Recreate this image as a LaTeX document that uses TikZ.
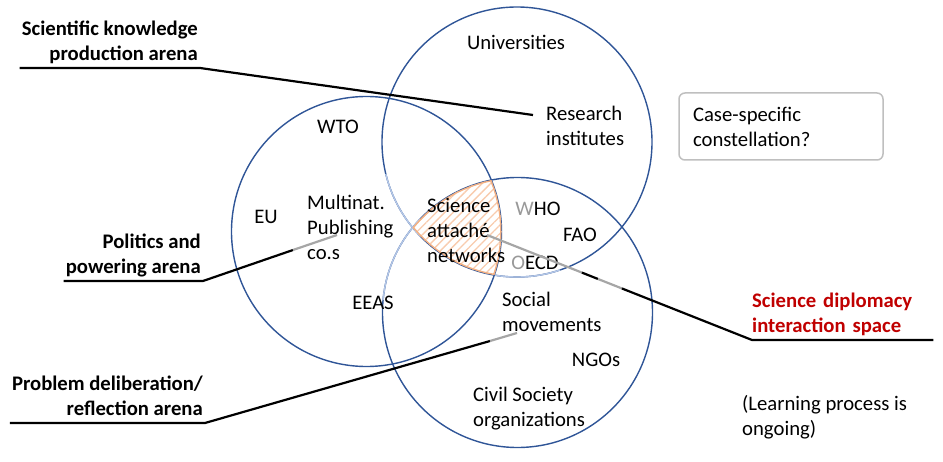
\documentclass[tikz,border=0pt]{standalone}
\usepackage{fontspec}
\setmainfont{Carlito}
\usetikzlibrary{patterns.meta,calc}

\definecolor{vennblue}{RGB}{47,85,151}
\definecolor{fadeblue}{RGB}{180,199,231}
\definecolor{sdred}{RGB}{192,0,0}
\definecolor{hatchorange}{RGB}{248,203,173}
\definecolor{edgeorange}{RGB}{244,177,131}
\definecolor{boxgray}{RGB}{191,191,191}

\newcommand{\labelsize}{\fontsize{20.7}{25}\selectfont}

\tikzset{
  venn/.style={draw=vennblue, line width=1.4pt},
  arena/.style={font=\labelsize\bfseries, align=right, inner xsep=2pt, inner ysep=0pt, anchor=south east},
  actor/.style={font=\labelsize, inner sep=0pt},
  leader/.style={line width=2.2pt},
  faded/.style={leader, draw=black!35},
}

\begin{document}
\begin{tikzpicture}[x=1pt, y=-1pt]
  \useasboundingbox (0,0) rectangle (943,462);

  % centres of the three arenas
  \coordinate (pol) at (366.5,231.5);
  \coordinate (sci) at (517,142);
  \coordinate (del) at (517.5,312.5);

  % the three arenas
  \draw[venn] (pol) circle[radius=135pt];
  \draw[venn] (sci) circle[radius=135pt];
  \draw[venn] (del) circle[radius=135pt];

  % paler arcs inside the overlaps
  \begin{scope}
    \clip (pol) circle[radius=135pt];
    \clip (380,175) rectangle (420,300);
    \draw[venn, draw=fadeblue] (sci) circle[radius=135pt];
    \draw[venn, draw=fadeblue] (del) circle[radius=135pt];
  \end{scope}
  \begin{scope}
    \clip (del) circle[radius=135pt];
    \clip (495,250) rectangle (560,290);
    \draw[venn, draw=fadeblue] (sci) circle[radius=135pt];
  \end{scope}

  % interaction space (hatched)
  \begin{scope}
    \clip (pol) circle[radius=135pt];
    \clip (sci) circle[radius=135pt];
    \clip (del) circle[radius=135pt];
    \fill[pattern={Lines[angle=45,distance=6pt,line width=1.3pt]}, pattern color=hatchorange]
      (0,0) rectangle (943,462);
    \draw[edgeorange, line width=2.8pt] (pol) circle[radius=135pt];
    \draw[edgeorange, line width=2.8pt] (sci) circle[radius=135pt];
    \draw[edgeorange, line width=2.8pt] (del) circle[radius=135pt];
  \end{scope}

  % actors
  \node[actor] (uni) at (516,42) {Universities};
  \node[actor, align=left, anchor=west] (res) at (546,125.5) {Research\\institutes};
  \node[actor] (wto) at (338,127) {WTO};
  \node[actor] (eu) at (266,217) {EU};
  \node[actor, align=left, anchor=west] (pub) at (307,227.5) {Multinat.\\Publishing\\co.s};
  \node[actor] (eeas) at (373,303) {EEAS};
  \node[actor, align=left, anchor=west] (att) at (427,230) {Science\\attach\'e\\networks};
  \node[actor] (who) at (538,209) {{\color{black!40}W}HO};
  \node[actor] (fao) at (580,235) {FAO};
  \node[actor] (oecd) at (535,263) {{\color{black!40}O}ECD};
  \node[actor, align=left, anchor=west] (soc) at (502,311.5) {Social\\movements};
  \node[actor] (ngo) at (596,360) {NGOs};
  \node[actor, align=left, anchor=west] (cso) at (473,408.5) {Civil Society\\organizations};

  \node[actor, draw=boxgray, line width=1.5pt, rounded corners=6pt, align=left,
    text width=176pt, inner xsep=14pt, minimum height=67pt] (case) at (781,126.5)
    {Case-specific\\constellation?};
  \node[actor, align=left, anchor=west] (learn) at (742,417.5) {(Learning process is\\ongoing)};

  % arena labels with leaders
  \coordinate (resend) at (533,115);
  \node[arena] (scilab) at (200,68) {Scientific knowledge\\production arena\strut};
  \draw[leader] (scilab.south west) -- (scilab.south east) -- (resend);

  \coordinate (polmid) at (293,250);
  \coordinate (polend) at (337,235);
  \node[arena] (pollab) at (203,281) {Politics and\\powering arena\strut};
  \draw[leader] (pollab.south west) -- (pollab.south east) -- (polmid);
  \draw[faded] (polmid) -- (polend);

  \coordinate (delmid) at (490,341);
  \coordinate (delend) at (517,333);
  \node[arena] (dellab) at (205,423) {Problem deliberation/\\reflection arena\strut};
  \draw[leader] (dellab.south west) -- (dellab.south east) -- (delmid);
  \draw[faded] (delmid) -- (delend);

  \coordinate (dipstart) at (487,235);
  \node[font=\labelsize\bfseries, text=sdred, align=left, text width=181pt, inner sep=0pt,
    anchor=south west] (diplab) at (752,340) {Science diplomacy\\interaction space\strut};
  \coordinate (dipa) at ($(dipstart)!0.358!(diplab.south west)$);
  \coordinate (dipb) at ($(dipstart)!0.419!(diplab.south west)$);
  \coordinate (dipc) at ($(dipstart)!0.509!(diplab.south west)$);
  \draw[faded] (dipstart) -- (dipa);
  \draw[leader] (dipa) -- (dipb);
  \draw[faded] (dipb) -- (dipc);
  \draw[leader] (dipc) -- (diplab.south west) -- (diplab.south east);
\end{tikzpicture}
\end{document}
